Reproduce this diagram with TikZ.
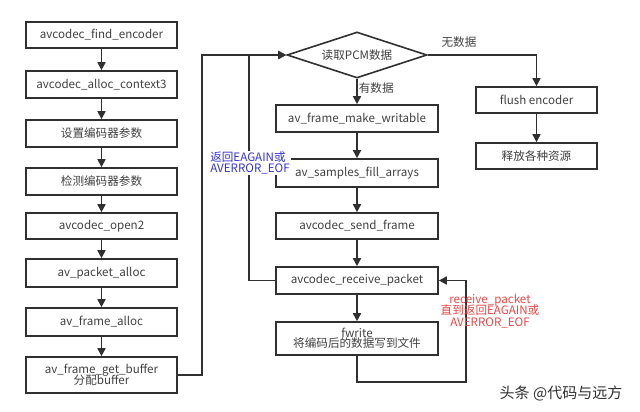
\documentclass[tikz,border=0pt]{standalone}
\usepackage{fontspec}
\setmainfont{Noto Sans CJK SC}
\usetikzlibrary{arrows.meta,shapes.geometric}
\definecolor{ln}{HTML}{303030}
\definecolor{tx}{HTML}{404040}
\definecolor{bl}{HTML}{3333DD}
\definecolor{rd}{HTML}{EE4444}
\tikzset{
  fnt/.style={font=\fontsize{11.6}{13.5}\selectfont},
  box/.style={draw=ln, line width=1.6pt, rectangle, inner sep=0pt, text=tx, fnt, align=center},
  lbox/.style={box, minimum width=151pt, minimum height=27pt},
  mbox/.style={box, minimum width=162pt, minimum height=27pt},
  rbox/.style={box, minimum width=121pt, minimum height=26pt},
  arr/.style={draw=ln, line width=1.6pt, -{Triangle[length=8pt,width=8pt]}},
  con/.style={draw=ln, line width=1.6pt},
  lbl/.style={text=tx, fnt, inner sep=1pt}
}
\begin{document}
\begin{tikzpicture}[x=1pt,y=-1pt]
\useasboundingbox (0,0) rectangle (640,412);
% left column
\node[lbox, minimum height=26pt] (b1) at (101.5,35) {avcodec\_find\_encoder};
\node[lbox] (b2) at (101.5,84.5) {avcodec\_alloc\_context3};
\node[lbox] (b3) at (101.5,133.5) {设置编码器参数};
\node[lbox] (b4) at (101.5,181.5) {检测编码器参数};
\node[lbox, minimum height=26pt] (b5) at (101.5,226) {avcodec\_open2};
\node[lbox, minimum height=28pt] (b6) at (101.5,273) {av\_packet\_alloc};
\node[lbox, minimum height=28pt] (b7) at (101.5,322) {av\_frame\_alloc};
\node[lbox, minimum height=36pt] (b8) at (101.5,375) {av\_frame\_get\_buffer\\[-3pt]分配buffer};
\foreach \a/\b in {b1/b2,b2/b3,b3/b4,b4/b5,b5/b6,b6/b7,b7/b8}
  \draw[arr] (\a) -- (\b);
% diamond
\node[draw=ln, line width=1.6pt, diamond, inner sep=0pt, minimum width=140pt, minimum height=46pt, shape aspect=3, text=tx, fnt] (dia) at (357,55) {读取PCM数据};
% middle column
\node[mbox] (m1) at (357,118.5) {av\_frame\_make\_writable};
\node[mbox, minimum height=28pt] (m2) at (357,173) {av\_samples\_fill\_arrays};
\node[mbox, minimum height=26pt] (m3) at (357,226) {avcodec\_send\_frame};
\node[mbox] (m4) at (357,280.5) {avcodec\_receive\_packet};
\node[mbox, minimum height=33pt] (m5) at (357,338.5) {fwrite\\[-3pt]将编码后的数据写到文件};
\draw[arr] (dia.south) -- node[lbl, right, pos=0.35] {有数据} (m1);
\foreach \a/\b in {m1/m2,m2/m3,m3/m4,m4/m5}
  \draw[arr] (\a) -- (\b);
% right column
\node[rbox] (f1) at (536.5,100) {flush encoder};
\node[rbox] (f2) at (536.5,156) {释放各种资源};
\draw[arr] (dia.east) -| (f1);
\draw[arr] (f1) -- (f2);
\node[lbl] (nd) at (459,42) {无数据};
% loops
\coordinate (c1) at (202,375);
\coordinate (c2) at (249,280.5);
\draw[arr] (b8.east) -- (c1) |- (dia.west);
\draw[arr] (m4.west) -- (c2) |- (dia.west);
\node[fill=white, inner sep=1pt, text=bl, fnt, align=left] (lb) at (250,163) {返回EAGAIN或\\[-2pt]AVERROR\_EOF};
\coordinate (lr) at (466,382);
\draw[arr] (m5.south) |- (lr) |- (m4.east);
\node[text=rd, fnt, align=center, inner sep=0pt] (lr2) at (490,311) {receive\_packet\\[-2pt]直到返回EAGAIN或\\[-2pt]AVERROR\_EOF};
% watermark
\node[text=ln, font=\fontsize{15}{17}\selectfont, inner sep=0pt] (wm) at (561,393) {头条 @代码与远方};
\end{tikzpicture}
\end{document}
